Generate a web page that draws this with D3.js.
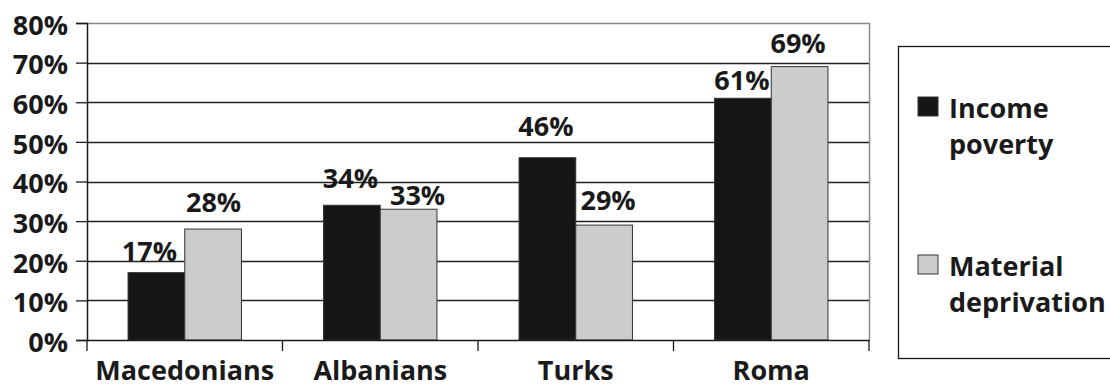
<!DOCTYPE html>
<html>
<head>
<meta charset="utf-8">
<script src="https://cdn.jsdelivr.net/npm/d3@7"></script>
<style>
  body { margin: 0; background: #fff; }
  text { font-family: "Open Sans", sans-serif; font-weight: 700; fill: #1a1a1a; }
</style>
</head>
<body>
<div id="chart"></div>
<script>
// data
var categories = ["Macedonians", "Albanians", "Turks", "Roma"];
var seriesNames = ["Income poverty", "Material deprivation"];
var incomePoverty = [17, 34, 46, 61];
var materialDeprivation = [28, 33, 29, 69];
var yTicks = [0, 10, 20, 30, 40, 50, 60, 70, 80];

// layout
var width = 1110, height = 387;
var plot = {left: 87, right: 869, top: 23, bottom: 340};
var colors = ["#161616", "#cbcccb"];
// the value labels were placed by hand in the original: [dx, gap above bar]
var labelShift = [
    [[-7, 12], [-1.5, 17], [-1.5, 22], [-1, 8]],
    [[0.5, 17], [9, 4], [4, 15], [-1.5, 14]]
];

var svg = d3.select("#chart").append("svg")
    .attr("width", width)
    .attr("height", height);

var y = d3.scaleLinear().domain([0, 80]).range([plot.bottom, plot.top]);
var x0 = d3.scaleBand().domain(categories).range([plot.left, plot.right]);
var gap = x0.bandwidth() * 0.21;
var x1 = d3.scaleBand().domain(seriesNames).range([gap, x0.bandwidth() - gap]);

// gridlines
svg.append("g").selectAll("line")
    .data(yTicks.filter(function(d){ return d > 0 && d < 80; }))
    .enter().append("line")
    .attr("x1", plot.left).attr("x2", plot.right)
    .attr("y1", function(d){ return Math.round(y(d)) + 0.5; })
    .attr("y2", function(d){ return Math.round(y(d)) + 0.5; })
    .style("stroke", "#222")
    .style("stroke-width", 1.3);

// plot border top/right
svg.append("path")
    .attr("d", "M" + plot.left + "," + (plot.top + 0.5) + "H" + (plot.right + 0.5) + "V" + plot.bottom)
    .style("fill", "none")
    .style("stroke", "#888")
    .style("stroke-width", 1.5);

// bars
var rows = categories.map(function(c, i){
    return [incomePoverty[i], materialDeprivation[i]];
});
var groups = svg.append("g").selectAll("g")
    .data(rows)
    .enter().append("g")
    .attr("transform", function(d, i){ return "translate(" + x0(categories[i]) + ",0)"; });

groups.selectAll("rect")
    .data(function(d){ return d; })
    .enter().append("rect")
    .attr("x", function(d, j){ return x1(seriesNames[j]); })
    .attr("y", function(d){ return y(d); })
    .attr("width", x1.bandwidth())
    .attr("height", function(d){ return plot.bottom - y(d); })
    .style("fill", function(d, j){ return colors[j]; })
    .style("stroke", "#333")
    .style("stroke-width", 1);

groups.each(function(row, i){
    d3.select(this).selectAll("text.val")
        .data(row)
        .enter().append("text")
        .attr("class", "val")
        .attr("text-anchor", "middle")
        .attr("x", function(d, j){ return x1(seriesNames[j]) + x1.bandwidth() / 2 + labelShift[j][i][0]; })
        .attr("y", function(d, j){ return y(d) - labelShift[j][i][1]; })
        .style("font-size", "27px")
        .text(function(d){ return d + "%"; });
});

// y axis
var yAxis = d3.axisLeft(y)
    .tickValues(yTicks)
    .tickSize(11)
    .tickPadding(8)
    .tickFormat(function(d){ return d + "%"; });
var gy = svg.append("g")
    .attr("transform", "translate(" + plot.left + ",0)")
    .call(yAxis);
gy.select(".domain").style("stroke", "#1a1a1a").style("stroke-width", 1.5);
gy.selectAll(".tick line").style("stroke", "#1a1a1a").style("stroke-width", 1.3);
gy.selectAll(".tick text")
    .style("font-size", "27px")
    .style("font-family", "'Open Sans', sans-serif")
    .style("font-weight", 700)
    .style("fill", "#1a1a1a")
    .attr("dy", "0.42em");

// x axis
var xAxis = d3.axisBottom(x0).tickSize(0).tickPadding(21);
var gx = svg.append("g")
    .attr("transform", "translate(0," + plot.bottom + ")")
    .call(xAxis);
gx.select(".domain").style("stroke", "#1a1a1a").style("stroke-width", 1.5);
gx.selectAll(".tick text")
    .style("font-size", "27px")
    .style("font-family", "'Open Sans', sans-serif")
    .style("font-weight", 700)
    .style("fill", "#1a1a1a")
    .attr("dy", "0.71em");
// category separators
gx.selectAll("line.sep")
    .data(categories.concat([null]))
    .enter().append("line")
    .attr("class", "sep")
    .attr("x1", function(d, i){ return plot.left + i * x0.bandwidth(); })
    .attr("x2", function(d, i){ return plot.left + i * x0.bandwidth(); })
    .attr("y1", 0).attr("y2", 11)
    .style("stroke", "#1a1a1a")
    .style("stroke-width", 1.3);

// legend
var legend = svg.append("g");
legend.append("rect")
    .attr("x", 898.5).attr("y", 46.5)
    .attr("width", 230).attr("height", 312)
    .style("fill", "#fff")
    .style("stroke", "#1a1a1a")
    .style("stroke-width", 1.3);

var legendLines = [["Income", "poverty"], ["Material", "deprivation"]];
var legendTop = [97, 255];
seriesNames.forEach(function(s, i){
    legend.append("rect")
        .attr("x", 918).attr("y", legendTop[i])
        .attr("width", 20).attr("height", 19)
        .style("fill", colors[i])
        .style("stroke", "#333")
        .style("stroke-width", 1);
    legend.append("text")
        .attr("x", 949)
        .attr("y", legendTop[i] + 21)
        .style("font-size", "27px")
        .selectAll("tspan")
        .data(legendLines[i])
        .enter().append("tspan")
        .attr("x", 949)
        .attr("dy", function(d, k){ return k === 0 ? 0 : 36; })
        .text(function(d){ return d; });
});
</script>
</body>
</html>
